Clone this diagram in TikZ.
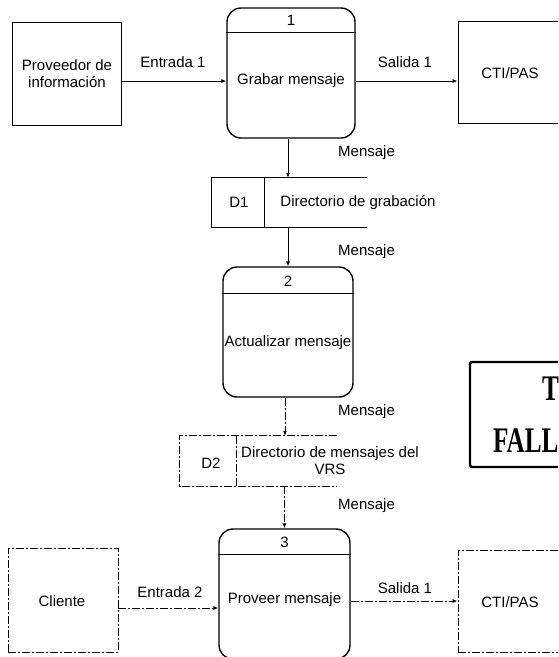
\documentclass[tikz,border=0pt]{standalone}
\usepackage{fontspec}
\setmainfont{Liberation Sans}
\newfontfamily\stampfont{Liberation Serif}
\usetikzlibrary{arrows.meta,calc}

\tikzset{
  base/.style={font=\fontsize{15}{17}\selectfont, inner sep=0pt},
  proc/.style={draw, rounded corners=14pt, line width=1.4pt, inner sep=0pt},
  entity/.style={draw, line width=0.9pt, inner sep=0pt},
  store/.style={inner sep=0pt},
  storeline/.style={line width=0.9pt},
  scan/.style={dash pattern=on 8pt off 2pt on 2pt off 2pt},
  flow/.style={line width=0.9pt, -{Latex[length=5pt,width=4pt]}},
  lbl/.style={base, align=center},
}

\begin{document}
\begin{tikzpicture}[x=1pt, y=-1pt]
  \useasboundingbox (0,0) rectangle (558,657);
  \clip (0,0) rectangle (558,657);

  % processes
  \node[proc, minimum width=128pt, minimum height=130pt] (p1) at (291,73) {};
  \draw[line width=1.1pt] ($(p1.north west)+(0,25)$) -- ($(p1.north east)+(0,25)$);
  \node[lbl] (p1num) at (291,20) {1};
  \node[lbl] (p1name) at (291,81) {Grabar mensaje};

  \node[proc, minimum width=130pt, minimum height=130pt] (p2) at (288,332) {};
  \draw[line width=1.1pt] ($(p2.north west)+(0,27)$) -- ($(p2.north east)+(0,27)$);
  \node[lbl] (p2num) at (288,281) {2};
  \node[lbl] (p2name) at (288,343) {Actualizar mensaje};

  \node[proc, minimum width=131pt, minimum height=130pt] (p3) at (284.5,594) {};
  \draw[line width=1.1pt] ($(p3.north west)+(0,26)$) -- ($(p3.north east)+(0,26)$);
  \node[lbl] (p3num) at (284.5,542) {3};
  \node[lbl] (p3name) at (284.5,600) {Proveer mensaje};

  % external entities
  \node[entity, minimum width=109pt, minimum height=103pt] (prov) at (66.5,73.5) {};
  \node[lbl] (provtxt) at (67,73.5) {Proveedor de\\información};
  \node[entity, minimum width=104pt, minimum height=102pt] (cti1) at (510,72) {};
  \node[lbl] (cti1txt) at (510,73) {CTI/PAS};
  \node[entity, scan, minimum width=110pt, minimum height=104pt] (cli) at (63,600) {};
  \node[lbl] (clitxt) at (62,601) {Cliente};
  \node[entity, scan, minimum width=104pt, minimum height=102pt] (cti2) at (510,601) {};
  \node[lbl] (cti2txt) at (510,602) {CTI/PAS};

  % data stores
  \node[store, minimum width=155pt, minimum height=49pt] (d1) at (289.5,202.5) {};
  \draw[storeline] (d1.north east) -- (d1.north west) -- (d1.south west) -- (d1.south east);
  \draw[storeline] ($(d1.north west)+(53,0)$) -- ($(d1.south west)+(53,0)$);
  \node[lbl] (d1id) at (239,202) {D1};
  \node[lbl] (d1txt) at (358,203) {Directorio de grabación};

  \node[store, minimum width=157pt, minimum height=50pt] (d2) at (258.5,461) {};
  \draw[storeline, scan] (d2.north east) -- (d2.north west) -- (d2.south west) -- (d2.south east);
  \draw[storeline, scan] ($(d2.north west)+(57,0)$) -- ($(d2.south west)+(57,0)$);
  \node[lbl] (d2id) at (211,463) {D2};
  \node[lbl] (d2txt) at (330,461) {Directorio de mensajes del\\VRS};

  % data flows
  \coordinate (e2) at (0,608);
  \coordinate (s2) at (0,601);
  \draw[flow] (prov.east |- p1name) -- (p1.west |- p1name);
  \draw[flow] (p1.east |- p1name) -- (cti1.west |- p1name);
  \draw[flow] ([xshift=-3pt]p1.south) -- ([xshift=-3pt]p1.south |- d1.north);
  \draw[flow] ([xshift=-1.5pt]d1.south) -- ([xshift=-1.5pt]d1.south |- p2.north);
  \draw[flow, scan] ([xshift=-3pt]p2.south) -- ([xshift=-3pt]p2.south |- d2.north);
  \draw[flow, scan] (p3.north |- d2.south) -- (p3.north);
  \draw[flow, scan] (cli.east |- e2) -- (p3.west |- e2);
  \draw[flow, scan] (p3.east |- s2) -- (cti2.west |- s2);

  % flow labels
  \node[lbl] (l1) at (173,62) {Entrada 1};
  \node[lbl] (l2) at (405,62) {Salida 1};
  \node[lbl] (l3) at (170,592) {Entrada 2};
  \node[lbl] (l4) at (405,588) {Salida 1};
  \node[lbl, anchor=west] (m1) at (338,153) {Mensaje};
  \node[lbl, anchor=west] (m2) at (338,252) {Mensaje};
  \node[lbl, anchor=west] (m3) at (338,412) {Mensaje};
  \node[lbl, anchor=west] (m4) at (338,506) {Mensaje};

  % stamp
  \draw[line width=2.4pt, rounded corners=2pt] (640,362) -- (470,362) -- (470,467) -- (640,467);
  \node[inner sep=0pt, anchor=base west, xscale=0.7,
        font=\stampfont\bfseries\fontsize{36}{36}\selectfont] (st1) at (542,400) {T};
  \node[inner sep=0pt, anchor=base west, xscale=0.7,
        font=\stampfont\bfseries\fontsize{36}{36}\selectfont] (st2) at (493,452) {FALL};
\end{tikzpicture}
\end{document}
